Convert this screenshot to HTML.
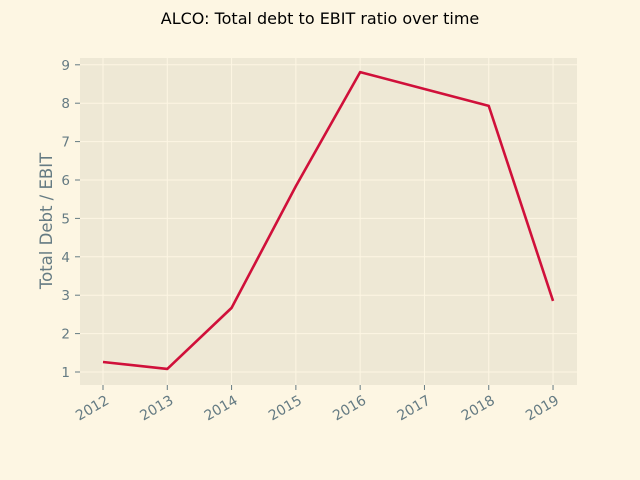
<!DOCTYPE html>
<html><head><meta charset="utf-8"><style>
body{margin:0;background:#fdf6e3;}
svg{display:block;font-family:"DejaVu Sans","Liberation Sans",sans-serif;}
</style></head><body>
<svg id="c" width="640" height="480">
<rect width="640" height="480" fill="#fdf6e3"/>
<text x="320" y="24" text-anchor="middle" font-size="16" fill="#000">ALCO: Total debt to EBIT ratio over time</text>
<rect x="80" y="58" width="497" height="327" fill="#eee8d5"/>
<g id="grid"></g>
<g id="ticks"></g>
<text transform="translate(52,221) rotate(-90)" text-anchor="middle" font-size="16.5" fill="#657b83">Total Debt / EBIT</text>
<g id="series"></g>
</svg>
<script>
const years=[2012,2013,2014,2015,2016,2017,2018,2019];
const ratios=[1.26,1.08,2.67,5.84,8.81,8.37,7.93,2.85];
const yTicks=[1,2,3,4,5,6,7,8,9];
const NS="http://www.w3.org/2000/svg";
const xs=y=>103+(y-2012)*64.29;
const ys=v=>372-(v-1)*38.4;
function mk(t,a,p){const e=document.createElementNS(NS,t);for(const k in a)e.setAttribute(k,a[k]);p.appendChild(e);return e;}
const g=document.getElementById('grid'),tk=document.getElementById('ticks'),s=document.getElementById('series');
years.forEach(y=>{
  const l=mk('line',{x1:xs(y),x2:xs(y),y1:58,y2:385,stroke:'#fdf6e3','stroke-width':1},g);
  
  
  const t=mk('line',{x1:xs(y),x2:xs(y),y1:385,y2:390,stroke:'#657b83'},tk);
  
  
  const tx=mk('text',{transform:`translate(${xs(y)+7},${403}) rotate(-30)`,'text-anchor':'end','font-size':14,fill:'#657b83'},tk);
  tx.textContent=y;
  
  
});
yTicks.forEach(v=>{
  const l=mk('line',{x1:80,x2:577,y1:ys(v),y2:ys(v),stroke:'#fdf6e3','stroke-width':1},g);
  
  
  const t=mk('line',{x1:75,x2:80,y1:ys(v),y2:ys(v),stroke:'#657b83'},tk);
  
  
  const tx=mk('text',{x:70,y:ys(v)+5,'text-anchor':'end','font-size':13.5,fill:'#657b83'},tk);
  tx.textContent=v;
  
  
});
const p=mk('polyline',{points:years.map((y,i)=>xs(y)+','+ys(ratios[i])).join(' '),fill:'none',stroke:'#d0103a','stroke-width':2.6,'stroke-linejoin':'round'},s);


</script>
</body></html>
